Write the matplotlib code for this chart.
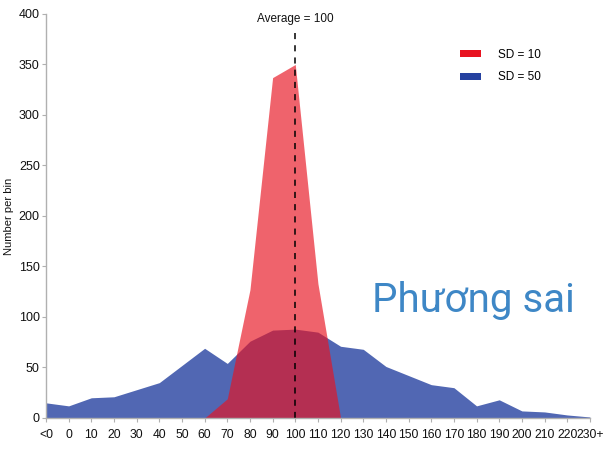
import matplotlib
matplotlib.use("Agg")
import matplotlib.pyplot as plt
from matplotlib.patches import Patch
import numpy as np

plt.rcParams['font.family'] = ['Liberation Sans', 'DejaVu Sans']

categories = ["<0", "0", "10", "20", "30", "40", "50", "60", "70", "80", "90", "100",
              "110", "120", "130", "140", "150", "160", "170", "180", "190", "200",
              "210", "220", "230+"]
sd50 = [15, 12, 20, 21, 28, 35, 52, 69, 54, 76, 87, 88, 85, 71, 68, 51, 42, 33, 30,
        12, 18, 7, 6, 3, 1]
sd10 = [0, 0, 0, 0, 0, 0, 0, 0, 19, 127, 337, 350, 133, 0, 0, 0, 0, 0, 0,
        0, 0, 0, 0, 0, 0]
average_label = "Average = 100"
average_cat = "100"

blue = "#2541A0"
red = "#E81320"

fig = plt.figure(figsize=(6.10, 4.51), dpi=100)
ax = fig.add_axes([0.0754, 0.0732, 0.967 - 0.0754, 0.969 - 0.0732])
x = np.arange(len(categories))
ax.fill_between(x, 0, sd50, color=blue, alpha=0.8, lw=0)
ax.fill_between(x, 0, sd10, color=red, alpha=0.66, lw=0)

xa = categories.index(average_cat)
ax.plot([xa, xa], [0, 381], ls=(0, (4, 4)), color="black", lw=1.1)
ax.text(xa, 395, average_label, ha="center", va="center", fontsize=8.5, color="#111111")

ax.set_xlim(0, len(categories) - 1)
ax.set_ylim(0, 400)
ax.set_xticks(x)
ax.set_xticklabels(categories)
ax.set_yticks(np.arange(0, 401, 50))
ax.tick_params(axis="both", labelsize=9, colors="#B0B0B0", labelcolor="#111111",
               length=3, width=0.8)
ax.tick_params(axis="x", pad=5, labelsize=8.7)
ax.tick_params(axis="y", pad=1.5)
for s in ["top", "right"]:
    ax.spines[s].set_visible(False)
for s in ["left", "bottom"]:
    ax.spines[s].set_color("#B0B0B0")
    ax.spines[s].set_linewidth(1.0)
ax.set_ylabel("Number per bin", fontsize=8, color="#111111")
ax.yaxis.set_label_coords(-0.059, 0.5)

handles = [Patch(facecolor=red, edgecolor="none", label="SD = 10"),
           Patch(facecolor=blue, edgecolor="none", label="SD = 50")]
leg = ax.legend(handles=handles, loc="upper right", bbox_to_anchor=(0.93, 0.94),
                frameon=False, fontsize=8.5, handlelength=1.75, handleheight=0.55,
                handletextpad=1.5, labelspacing=0.9)

fig.text(0.610, 0.308, "Phương sai", fontsize=29, color="#3E87C6",
         family=["Roboto", "DejaVu Sans"], ha="left", va="baseline")

fig.savefig("out.png", dpi=100)
